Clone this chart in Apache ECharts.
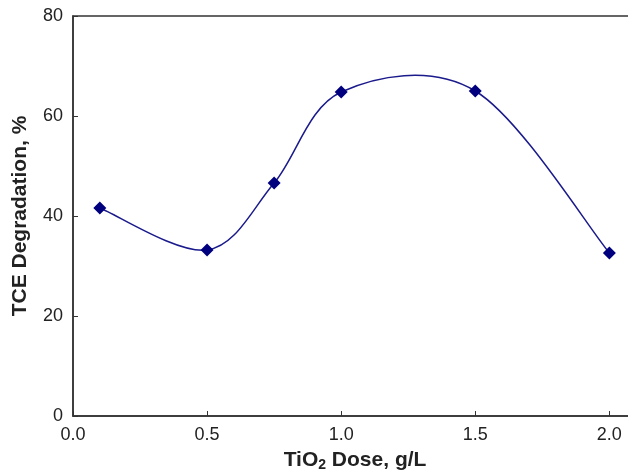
<!DOCTYPE html>
<html><head><meta charset="utf-8">
<script src="https://cdn.jsdelivr.net/npm/echarts@6/dist/echarts.min.js"></script>
<style>html,body{margin:0;padding:0;background:#fff}#c{width:628px;height:472px}</style>
</head><body><div id="c"></div>
<script>
const doses = [0.1, 0.5, 0.75, 1.0, 1.5, 2.0];
const degradation = [41.6, 33.2, 46.6, 64.8, 65.0, 32.6];
const xTicks = [0, 0.5, 1.0, 1.5, 2.0];
const yTicks = [0, 20, 40, 60, 80];

const chart = echarts.init(document.getElementById('c'));
const font = 'Liberation Sans, Arial, sans-serif';
const points = doses.map((d, i) => [d, degradation[i]]);

function renderSpline(params, api) {
  const i = params.dataIndex;
  const n = points.length;
  if (i >= n - 1) return null;
  const P = points.map(p => api.coord(p));
  const tan = k => {
    const a = P[Math.max(k - 1, 0)], b = P[Math.min(k + 1, n - 1)];
    return [(b[0] - a[0]) / 6, (b[1] - a[1]) / 6];
  };
  const t0 = tan(i), t1 = tan(i + 1);
  return {
    type: 'bezierCurve',
    shape: {
      x1: P[i][0], y1: P[i][1], x2: P[i + 1][0], y2: P[i + 1][1],
      cpx1: P[i][0] + t0[0], cpy1: P[i][1] + t0[1],
      cpx2: P[i + 1][0] - t1[0], cpy2: P[i + 1][1] - t1[1]
    },
    style: { stroke: '#1a1a8c', lineWidth: 1.5, fill: null }
  };
}

chart.setOption({
  animation: false,
  grid: { left: 73, top: 16, bottom: 56, right: -35, outerBoundsMode: 'none', containLabel: false,
    show: true, borderColor: '#333', borderWidth: 1.5 },
  xAxis: {
    type: 'value', min: 0, max: 2.2, interval: 0.5,
    axisLine: { lineStyle: { color: '#333', width: 1.5 } },
    axisTick: { inside: true, length: 5, lineStyle: { color: '#333' } },
    axisLabel: { color: '#222', fontSize: 18, fontFamily: font, margin: 10,
      formatter: v => xTicks.includes(v) ? v.toFixed(1) : '' },
    splitLine: { show: false },
    name: '{b|TiO}{s|2}{b| Dose, g/L}', nameLocation: 'middle', nameGap: 32,
    nameTextStyle: { padding: [0, 26, 0, 0], rich: {
      b: { fontSize: 21, fontWeight: 'bold', fontFamily: font, color: '#222' },
      s: { fontSize: 14, fontWeight: 'bold', fontFamily: font, color: '#222', verticalAlign: 'bottom', padding: [10, 0, 0, 0] }
    } }
  },
  yAxis: {
    type: 'value', min: 0, max: 80, interval: 20,
    axisLine: { show: true, lineStyle: { color: '#333', width: 1.5 } },
    axisTick: { show: true, inside: true, length: 5, lineStyle: { color: '#333' } },
    axisLabel: { color: '#222', fontSize: 18, fontFamily: font, margin: 10,
      formatter: v => yTicks.includes(v) ? String(v) : '' },
    splitLine: { show: false },
    name: 'TCE Degradation, %', nameLocation: 'middle', nameGap: 42,
    nameTextStyle: { fontSize: 21, fontWeight: 'bold', fontFamily: font, color: '#222' }
  },
  series: [{
    type: 'custom', renderItem: renderSpline, data: points, z: 2, silent: true
  }, {
    type: 'scatter', data: points,
    symbol: 'diamond', symbolSize: 13, z: 3,
    itemStyle: { color: '#00007f', opacity: 1 }
  }]
});
</script></body></html>
